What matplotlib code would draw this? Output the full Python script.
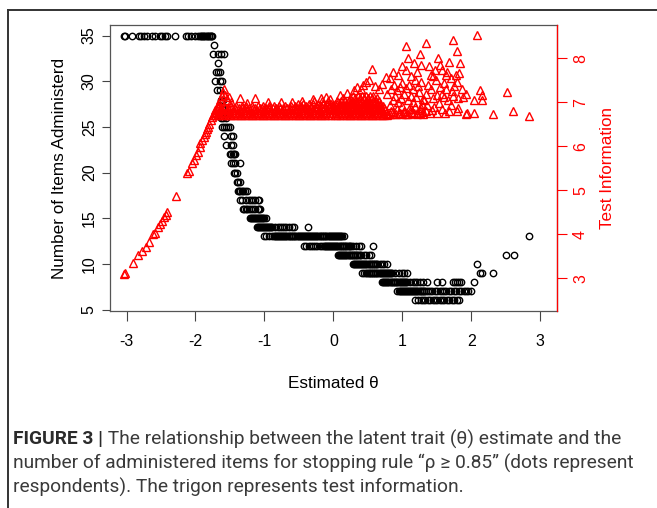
import matplotlib
matplotlib.use("Agg")
import matplotlib.pyplot as plt
from matplotlib.lines import Line2D

W, H = 657, 508

# number of items administered -> estimated theta of each respondent at that level
theta_by_items = {
    35: [-3.04, -3.02, -2.92, -2.82, -2.79, -2.75, -2.71, -2.63, -2.59, -2.52, -2.48, -2.44, -2.41,
         -2.29, -2.14, -2.11, -2.07, -2.00, -1.97, -1.93, -1.92, -1.90, -1.89, -1.87, -1.86,
         -1.84, -1.83, -1.81, -1.80, -1.78, -1.77, -1.76],
    34: [-1.73],
    33: [-1.75, -1.67, -1.63, -1.59],
    32: [-1.67],
    31: [-1.70, -1.67, -1.64],
    30: [-1.71, -1.65, -1.62],
    29: [-1.69, -1.64],
    28: [-1.63, -1.60],
    27: [-1.62, -1.58],
    26: [-1.63, -1.60, -1.56],
    25: [-1.61, -1.58, -1.56, -1.53, -1.50],
    24: [-1.59, -1.48, -1.46],
    23: [-1.56, -1.49, -1.45],
    22: [-1.50, -1.48, -1.46, -1.44, -1.42],
    21: [-1.48, -1.45, -1.42, -1.35],
    20: [-1.44, -1.42, -1.40],
    19: [-1.40, -1.38, -1.36],
    18: [-1.39, -1.37, -1.35, -1.33, -1.31, -1.28, -1.25],
    17: [-1.35, -1.33, -1.26, -1.22, -1.19, -1.16, -1.13, -1.10, -1.08],
    16: [-1.31, -1.29, -1.27, -1.25, -1.22, -1.19, -1.16, -1.13, -1.10, -1.08, -1.06],
    15: [-1.21, -1.20, -1.18, -1.17, -1.15, -1.14, -1.12, -1.11, -1.09, -1.08, -1.06, -1.05,
         -1.03, -1.02, -1.00, -0.98],
    14: [-1.11, -1.10, -1.08, -1.07, -1.05, -1.04, -1.02, -1.01, -0.99, -0.98, -0.96, -0.95,
         -0.93, -0.92, -0.90, -0.89, -0.84, -0.80, -0.77, -0.74, -0.71, -0.68, -0.64, -0.60,
         -0.57, -0.37],
    13: [-1.01, -0.97, -0.93, -0.89, -0.86, -0.85, -0.83, -0.82, -0.80, -0.79, -0.77, -0.76,
         -0.74, -0.73, -0.71, -0.70, -0.68, -0.67, -0.65, -0.64, -0.62, -0.61, -0.59, -0.58,
         -0.56, -0.55, -0.53, -0.52, -0.50, -0.49, -0.47, -0.46, -0.44, -0.43, -0.41, -0.40,
         -0.38, -0.37, -0.35, -0.34, -0.32, -0.31, -0.29, -0.28, -0.26, -0.25, -0.23, -0.22,
         -0.20, -0.19, -0.17, -0.16, -0.14, -0.13, -0.11, -0.10, -0.08, -0.07, -0.05, -0.04,
         -0.02, -0.01, 0.01, 0.02, 0.04, 0.05, 0.07, 0.08, 0.10, 0.11, 0.13, 0.16, 2.84],
    12: [-0.43, -0.39, -0.35, -0.32, -0.29, -0.26, -0.23, -0.20, -0.17, -0.14, -0.12, -0.11,
         -0.09, -0.08, -0.06, -0.05, -0.03, -0.02, 0.00, 0.01, 0.03, 0.04, 0.06, 0.07, 0.09,
         0.10, 0.12, 0.13, 0.15, 0.16, 0.18, 0.19, 0.21, 0.22, 0.24, 0.25, 0.29, 0.33, 0.37,
         0.40, 0.57],
    11: [0.07, 0.08, 0.10, 0.11, 0.13, 0.14, 0.16, 0.17, 0.19, 0.20, 0.22, 0.23, 0.25, 0.26,
         0.28, 0.29, 0.31, 0.32, 0.34, 0.35, 0.37, 0.38, 0.40, 0.44, 0.48, 0.51, 0.54,
         2.50, 2.62],
    10: [0.28, 0.30, 0.31, 0.33, 0.34, 0.36, 0.37, 0.39, 0.40, 0.42, 0.43, 0.45, 0.46, 0.48,
         0.49, 0.51, 0.52, 0.54, 0.55, 0.57, 0.58, 0.60, 0.61, 0.63, 0.64, 0.68, 0.71, 0.74,
         0.78, 2.08],
    9: [0.42, 0.45, 0.48, 0.49, 0.51, 0.52, 0.54, 0.55, 0.57, 0.58, 0.60, 0.61, 0.63, 0.64,
        0.66, 0.67, 0.69, 0.70, 0.72, 0.73, 0.75, 0.76, 0.78, 0.79, 0.81, 0.82, 0.84, 0.85,
        0.90, 0.95, 0.99, 1.03, 1.07, 2.13, 2.15, 2.31],
    8: [0.71, 0.72, 0.74, 0.75, 0.77, 0.78, 0.80, 0.81, 0.83, 0.84, 0.86, 0.87, 0.89, 0.90,
        0.92, 0.93, 0.95, 0.96, 0.98, 0.99, 1.01, 1.02, 1.04, 1.05, 1.07, 1.11, 1.15, 1.19,
        1.22, 1.26, 1.30, 1.36, 1.51, 1.58, 1.73, 1.76, 1.79, 1.82, 1.85, 2.04],
    7: [0.93, 0.95, 0.96, 0.98, 0.99, 1.01, 1.02, 1.04, 1.05, 1.07, 1.08, 1.10, 1.11, 1.13,
        1.14, 1.16, 1.17, 1.19, 1.20, 1.22, 1.23, 1.25, 1.26, 1.28, 1.29, 1.31, 1.32, 1.34,
        1.37, 1.40, 1.43, 1.47, 1.50, 1.54, 1.57, 1.61, 1.64, 1.68, 1.71, 1.75, 1.78, 1.82,
        1.85, 1.89, 1.92, 1.96, 1.99],
    6: [1.19, 1.23, 1.27, 1.30, 1.33, 1.37, 1.40, 1.44, 1.47, 1.51, 1.54, 1.58, 1.61, 1.65,
        1.68, 1.72, 1.75, 1.79, 1.82],
}

# test information (triangles): rising part on the left
ramp_theta = [-3.03, -3.02, -2.91, -2.84, -2.77, -2.72, -2.68, -2.61, -2.59, -2.55, -2.52, -2.48,
              -2.46, -2.43, -2.41, -2.28, -2.12, -2.10, -2.05, -2.02, -1.99, -1.97, -1.94, -1.93,
              -1.90, -1.88, -1.86, -1.85, -1.83, -1.82, -1.80, -1.78, -1.76, -1.74, -1.72, -1.70,
              -1.68, -1.66, -1.64, -1.62, -1.60, -1.59, -1.57, -1.55, -1.52, -1.49]
ramp_info = [3.11, 3.13, 3.34, 3.53, 3.63, 3.72, 3.83, 4.00, 4.04, 4.17, 4.23, 4.31,
             4.39, 4.45, 4.51, 4.88, 5.39, 5.45, 5.63, 5.69, 5.80, 5.88, 5.98, 6.07,
             6.15, 6.22, 6.28, 6.33, 6.40, 6.45, 6.52, 6.60, 6.66, 6.71, 6.78, 6.84,
             6.90, 6.98, 7.05, 7.15, 7.22, 7.30, 7.18, 7.05, 7.13, 7.00]

# densely packed flat part: information level -> thetas of the triangles at that level
band_rows = {
    6.72: [-1.72, -1.68, -1.64, -1.60, -1.56, -1.52, -1.48, -1.44, -1.40, -1.36, -1.32, -1.28,
           -1.24, -1.20, -1.16, -1.12, -1.08, -1.04, -1.00, -0.96, -0.92, -0.88, -0.84, -0.80,
           -0.76, -0.72, -0.68, -0.64, -0.60, -0.56, -0.52, -0.48, -0.44, -0.40, -0.36, -0.32,
           -0.28, -0.24, -0.20, -0.16, -0.12, -0.08, -0.04,
           0.02, 0.06, 0.10, 0.14, 0.18, 0.22, 0.26, 0.30, 0.34, 0.38, 0.42, 0.46, 0.50, 0.54,
           0.58, 0.62, 0.66, 0.70, 0.74, 0.78],
    6.77: [-1.70, -1.66, -1.62, -1.58, -1.54, -1.50, -1.46, -1.42, -1.38, -1.34, -1.30, -1.26,
           -1.22, -1.18, -1.14, -1.10, -1.06, -1.02, -0.98, -0.94, -0.90, -0.86, -0.82, -0.78,
           -0.74, -0.70, -0.66, -0.62, -0.58, -0.54, -0.50, -0.46, -0.42, -0.38, -0.34, -0.30,
           -0.26, -0.22, -0.18, -0.14, -0.10, -0.06, -0.02,
           0.04, 0.08, 0.12, 0.16, 0.20, 0.24, 0.28, 0.32, 0.36, 0.40, 0.44, 0.48, 0.52, 0.56,
           0.60, 0.64, 0.68, 0.72, 0.76],
    6.82: [-1.71, -1.65, -1.61, -1.55, -1.51, -1.45, -1.41, -1.35, -1.31, -1.25, -1.21, -1.15,
           -1.11, -1.05, -1.01, -0.95, -0.91, -0.85, -0.81, -0.75, -0.71, -0.65, -0.61, -0.55,
           -0.51, -0.45, -0.41, -0.35, -0.31, -0.25, -0.21, -0.15, -0.11, -0.05, -0.01,
           0.03, 0.07, 0.11, 0.15, 0.19, 0.23, 0.27, 0.31, 0.35, 0.39, 0.43, 0.47, 0.51, 0.55,
           0.59, 0.63, 0.67, 0.71, 0.75],
    6.87: [-1.68, -1.63, -1.57, -1.53, -1.47, -1.43, -1.37, -1.33, -1.27, -1.23, -1.17, -1.13,
           -1.07, -1.03, -0.97, -0.93, -0.87, -0.83, -0.77, -0.73, -0.67, -0.63, -0.57, -0.53,
           -0.47, -0.43, -0.37, -0.33, -0.27, -0.23, -0.17, -0.13, -0.07, -0.03,
           0.01, 0.05, 0.09, 0.13, 0.17, 0.21, 0.25, 0.29, 0.33, 0.37, 0.41, 0.45, 0.49, 0.53,
           0.57, 0.61, 0.65, 0.69, 0.73],
    6.92: [-1.66, -1.58, -1.49, -1.41, -1.33, -1.26, -1.18, -1.09, -1.02, -0.94, -0.86, -0.79,
           -0.70, -0.62, -0.55, -0.47, -0.40, -0.32, -0.25, -0.18, -0.12, -0.06, 0.00,
           0.04, 0.08, 0.12, 0.16, 0.20, 0.24, 0.28, 0.32, 0.36, 0.40, 0.44, 0.48, 0.52, 0.56,
           0.60, 0.64, 0.68, 0.72],
    6.97: [-0.52, -0.44, -0.36, -0.29, -0.22, -0.15, -0.09, -0.03,
           0.02, 0.06, 0.10, 0.14, 0.19, 0.23, 0.27, 0.31, 0.35, 0.39, 0.43, 0.47, 0.51, 0.55,
           0.59, 0.63, 0.67],
    7.03: [-0.28, -0.16, -0.08, 0.05, 0.11, 0.17, 0.22, 0.27, 0.32, 0.37, 0.42, 0.47, 0.52,
           0.57, 0.62, 0.66],
    7.09: [0.14, 0.24, 0.31, 0.38, 0.44, 0.50, 0.56, 0.63],
    7.15: [0.29, 0.36, 0.41, 0.47, 0.53, 0.58],
}

# scattered triangles above the band and on the right
cloud_theta = [
    -1.35, -1.14, -0.95, -0.76, -1.25, -0.60, -0.45, -0.30, -0.18, -0.10, -0.05,
    0.35, 0.43, 0.47, 0.52, 0.56, 0.60, 0.66, 0.70, 0.40, 0.30, 0.20, 0.10,
    0.80, 0.84, 0.88, 0.92, 0.96, 1.00, 1.03, 1.06, 1.10, 1.14, 1.18, 1.22, 1.25, 1.28,
    0.82, 0.87, 0.91, 0.95, 1.00, 1.04, 1.09, 1.13, 1.17, 1.21, 1.26, 1.30,
    0.82, 0.86, 0.90, 0.94, 0.98, 1.02, 1.08, 1.12, 1.16, 1.20, 1.24, 1.30,
    0.78, 0.84, 0.88, 0.92, 0.96, 1.00, 1.05, 1.10, 1.15, 1.19, 1.23, 1.27,
    0.76, 0.86, 0.99, 1.05, 1.06, 1.08, 1.17, 1.21, 1.26, 1.27, 0.82, 0.94, 1.13,
    1.34, 1.74, 1.80, 1.52, 1.68, 1.83, 1.39, 1.58, 1.48, 1.82, 1.78, 1.41, 1.63, 1.70, 1.80,
    1.92, 1.81, 1.61, 1.51, 1.53, 1.92, 1.94, 1.68, 1.80, 1.81, 1.51, 1.34, 1.36, 1.27, 1.12,
    1.32, 1.35, 1.38, 1.42, 1.45, 1.46, 1.49, 1.55, 1.57, 1.60, 1.64, 1.66, 1.72, 1.75, 1.58,
    1.40, 1.44, 1.55, 1.65, 1.73, 1.86, 1.88, 1.30, 1.43, 1.62, 1.70,
    2.08, 2.13, 2.52, 2.15, 2.04, 2.15, 2.31, 2.61, 2.84, 2.04,
]
cloud_info = [
    7.09, 7.11, 7.00, 7.00, 6.99, 7.02, 7.04, 7.07, 7.10, 7.13, 7.08,
    7.35, 7.40, 7.47, 7.50, 7.76, 7.38, 7.30, 7.42, 7.30, 7.28, 7.22, 7.18,
    6.74, 6.80, 6.73, 6.86, 6.76, 6.92, 6.80, 6.74, 6.84, 6.76, 6.90, 6.75, 6.82, 6.96,
    6.74, 6.78, 6.73, 6.77, 6.74, 6.79, 6.73, 6.78, 6.75, 6.73, 6.77, 6.74,
    6.95, 7.05, 7.15, 7.00, 7.10, 7.20, 7.05, 7.15, 7.02, 7.12, 7.24, 7.08,
    7.20, 7.30, 7.40, 7.28, 7.36, 7.45, 7.32, 7.40, 7.30, 7.50, 7.38, 7.46,
    7.58, 7.70, 7.83, 7.73, 8.29, 8.00, 7.89, 7.70, 8.11, 7.85, 7.55, 7.62, 7.60,
    8.34, 8.42, 8.17, 8.01, 7.91, 7.89, 7.83, 7.73, 7.73, 7.66, 7.62, 7.62, 7.62, 7.55, 7.47,
    7.20, 7.10, 7.13, 7.17, 6.98, 6.73, 6.77, 6.80, 6.80, 6.88, 6.77, 6.80, 6.94, 6.88, 6.86,
    7.05, 7.20, 7.40, 7.30, 7.10, 6.90, 7.50, 7.35, 7.20, 7.45, 7.30, 7.05, 7.25, 7.38, 6.85,
    6.75, 7.60, 7.85, 7.70, 7.15, 7.30, 7.12, 6.78, 6.82, 6.76, 6.95,
    8.53, 7.28, 7.23, 7.17, 7.05, 7.05, 6.73, 6.80, 6.70, 6.77,
]

x_ticks = [-3, -2, -1, 0, 1, 2, 3]
items_ticks = [5, 10, 15, 20, 25, 30, 35]
info_ticks = [3, 4, 5, 6, 7, 8]

caption_bold = "FIGURE 3 |"
caption_lines = [
    " The relationship between the latent trait (\u03b8) estimate and the",
    "number of administered items for stopping rule \u201c\u03c1 \u2265 0.85\u201d (dots represent",
    "respondents). The trigon represents test information.",
]

plt.rcParams["font.family"] = ["Liberation Sans", "DejaVu Sans"]
plt.rcParams["axes.unicode_minus"] = False

fig = plt.figure(figsize=(W / 100, H / 100), dpi=100)
ax = fig.add_axes([110 / W, 1 - 311 / H, 446.7 / W, 286 / H])

for n, xs in theta_by_items.items():
    ax.plot(xs, [n] * len(xs), linestyle="none", marker="o", ms=4.6,
            mfc="none", mec="black", mew=1.0)

ax.set_xlim(-3.24, 3.24)
ax.set_ylim(4.84, 36.16)
ax.set_xticks(x_ticks, [str(v) for v in x_ticks])
ax.set_yticks(items_ticks, [str(v) for v in items_ticks], rotation=90, va="center")
ax.tick_params(axis="x", length=7, width=0.8, pad=9.5, labelsize=11.5, color="#444444")
ax.tick_params(axis="y", length=6, width=0.8, pad=3.5, labelsize=11.5, color="#444444")
for side in ["left", "top", "bottom", "right"]:
    ax.spines[side].set_color("#555555")
    ax.spines[side].set_linewidth(0.9)

ax2 = ax.twinx()
tri_theta = list(ramp_theta)
tri_info = list(ramp_info)
for level, xs in band_rows.items():
    tri_theta += xs
    tri_info += [level] * len(xs)
tri_theta += cloud_theta
tri_info += cloud_info
ax2.plot(tri_theta, tri_info, linestyle="none", marker="^", ms=5.8,
         mfc="none", mec="red", mew=1.0)
ax2.set_ylim(2.26, 8.76)
ax2.set_yticks(info_ticks, [str(v) for v in info_ticks], rotation=90, va="center")
ax2.tick_params(axis="y", length=7, width=0.8, pad=4.8, labelsize=11.5, colors="red")
for side in ["left", "top", "bottom"]:
    ax2.spines[side].set_visible(False)
ax2.spines["right"].set_color("red")
ax2.spines["right"].set_linewidth(0.9)

mid_y = 1 - 168 / H
fig.text(60 / W, mid_y, "Number of Items Administerd", rotation=90,
         ha="center", va="center", fontsize=12.3)
fig.text(607 / W, mid_y, "Test Information", rotation=90, color="red",
         ha="center", va="center", fontsize=12.3)
fig.text(333 / W, 1 - 383 / H, "Estimated \u03b8", ha="center", va="center", fontsize=12.3)

# frame of the figure panel (only the top and left edges fall inside the crop)
fig.add_artist(Line2D([8 / W, 1], [1 - 10 / H, 1 - 10 / H], transform=fig.transFigure,
                      color="#333333", lw=1.4))
fig.add_artist(Line2D([8 / W, 8 / W], [1 - 10 / H, 0], transform=fig.transFigure,
                      color="#333333", lw=1.4))

# caption, sized so that the first line spans the same width as in the figure
cap_font = ["Roboto", "DejaVu Sans"]
renderer = fig.canvas.get_renderer()
cap_x = 13 / W
cap_ys = [1 - 439 / H, 1 - 463 / H, 1 - 487 / H]
size = 13.0
probe = fig.text(0, 0, caption_bold + caption_lines[0], fontsize=size, family=cap_font)
width = probe.get_window_extent(renderer).width
probe.remove()
size = size * 608 / width

bold = fig.text(cap_x, cap_ys[0], caption_bold, fontsize=size, family=cap_font,
                weight="bold", color="#2b2b2b", va="center")
bx = bold.get_window_extent(renderer).x1 / W
fig.text(bx, cap_ys[0], caption_lines[0], fontsize=size, family=cap_font,
         color="#3a3a3a", va="center")
for line, y in zip(caption_lines[1:], cap_ys[1:]):
    fig.text(cap_x, y, line, fontsize=size, family=cap_font, color="#3a3a3a", va="center")

fig.savefig("out.png", dpi=100)
